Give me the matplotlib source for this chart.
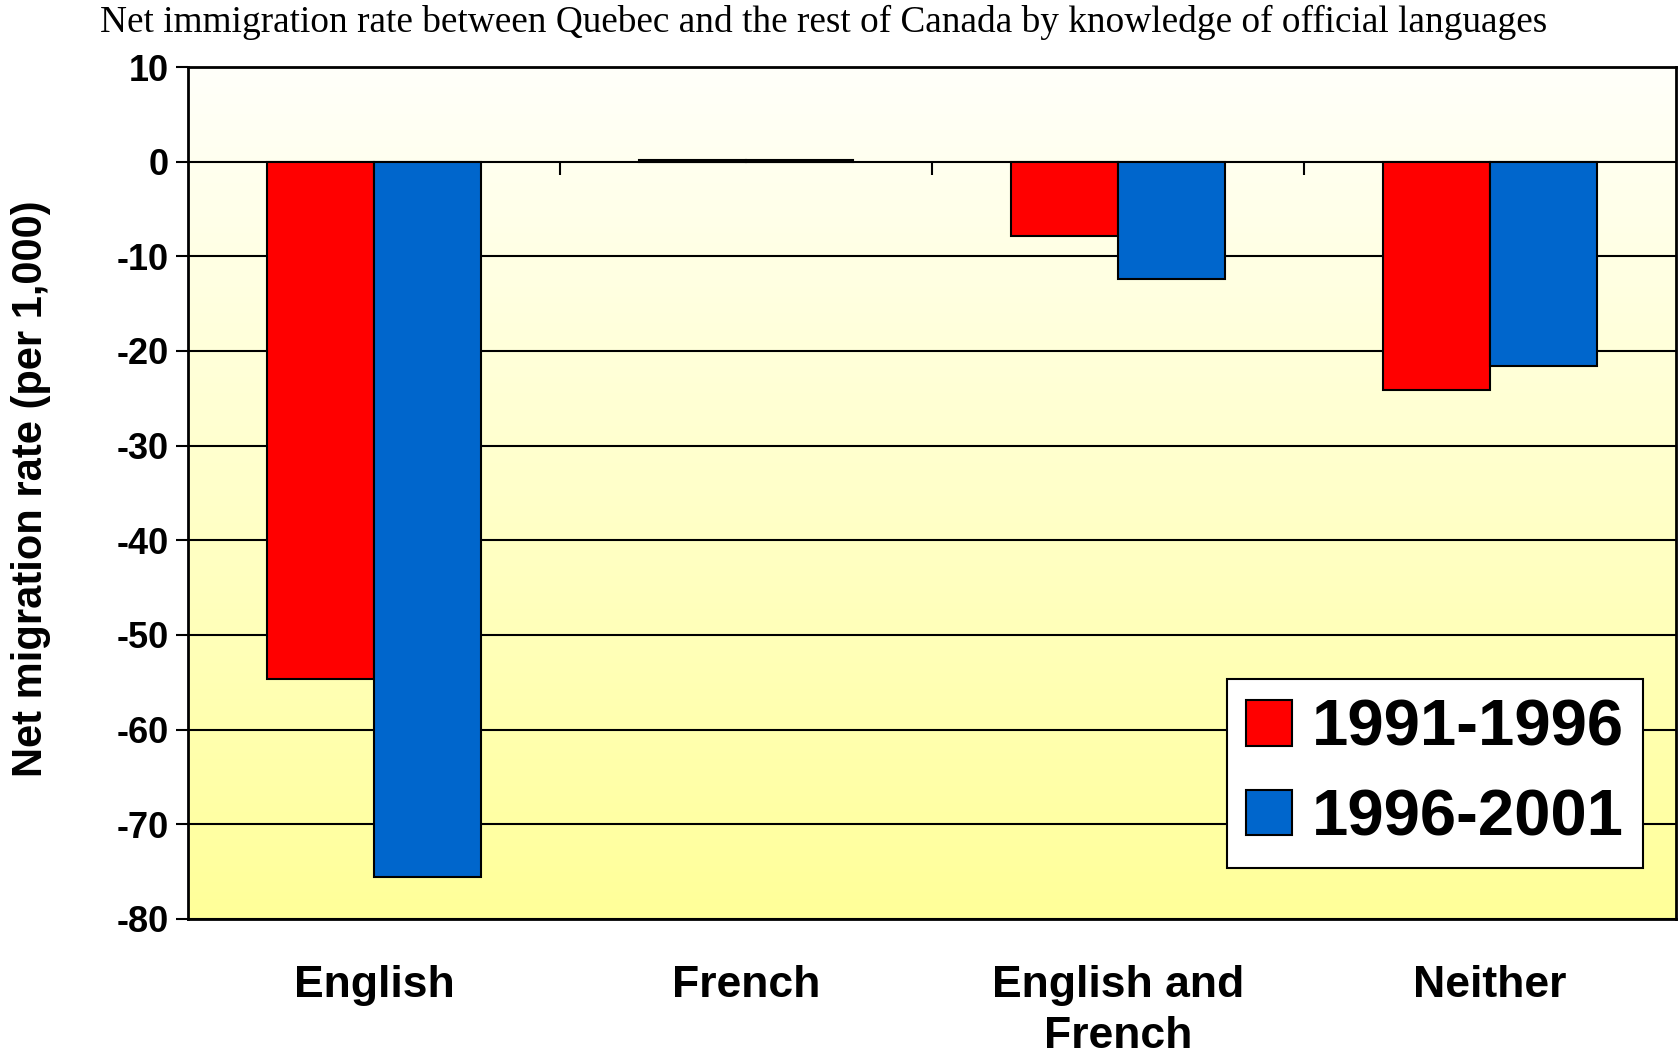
import numpy as np
import matplotlib
matplotlib.use("Agg")
import matplotlib.pyplot as plt
from matplotlib.colors import LinearSegmentedColormap

categories = ["English", "French", "English and\nFrench", "Neither"]
periods = ["1991-1996", "1996-2001"]
rate_1991 = [-54.7, 0.2, -7.8, -24.1]
rate_1996 = [-75.6, 0.2, -12.4, -21.6]
colors = ["#FF0000", "#0066CC"]
yticks = list(range(10, -90, -10))

plt.rcParams["font.family"] = ["Liberation Sans", "DejaVu Sans"]
plt.rcParams["font.weight"] = "bold"

fig = plt.figure(figsize=(16.81, 10.57), dpi=100)
ax = fig.add_axes([0.1118, 0.1306, 0.8852, 0.806])

# background gradient, white at top to pale yellow at bottom
grad = np.linspace(0, 1, 256).reshape(-1, 1)
cmap = LinearSegmentedColormap.from_list("bg", ["#FFFFFA", "#FFFF99"])
ax.imshow(grad, aspect="auto", cmap=cmap, extent=[0, 1, 0, 1],
          transform=ax.transAxes, zorder=0)

x = np.arange(len(categories))
w = 0.288
ax.bar(x - w / 2, rate_1991, w, color=colors[0], edgecolor="black",
       linewidth=1.5, label=periods[0], zorder=3)
ax.bar(x + w / 2, rate_1996, w, color=colors[1], edgecolor="black",
       linewidth=1.5, label=periods[1], zorder=3)

ax.set_xlim(-0.5, len(categories) - 0.5)
ax.set_ylim(-80, 10)
ax.set_yticks(yticks)
ax.set_yticklabels([str(t) for t in yticks], fontsize=26, fontweight="bold")
ax.yaxis.grid(True, color="black", linewidth=1.5, zorder=1)
ax.set_axisbelow(True)
ax.tick_params(axis="y", length=9, width=1.5, pad=5)

ax.set_xticks(x)
ax.set_xticklabels(categories, fontsize=32, fontweight="bold", linespacing=1.33)
ax.tick_params(axis="x", length=0, pad=33)
for lbl in ax.get_xticklabels():
    lbl.set_verticalalignment("top")

# category boundary ticks on the zero line
sec = ax.secondary_xaxis(80 / 90)
sec.set_xticks(x[:-1] + 0.5)
sec.xaxis.set_ticks_position("bottom")
sec.tick_params(axis="x", direction="out", length=9, width=1.5,
                labelbottom=False, labeltop=False)
sec.spines["top"].set_visible(False)
sec.spines["bottom"].set_visible(False)
sec.set_xticklabels([])

for s in ax.spines.values():
    s.set_linewidth(2)
    s.set_color("black")

ax.set_ylabel("Net migration rate (per 1,000)", fontsize=30, fontweight="bold")
ax.yaxis.label.set_verticalalignment("center")
ax.yaxis.set_label_coords(-0.1055, 0.505)

leg = ax.legend(loc="lower right", bbox_to_anchor=(0.978, 0.06),
                prop={"weight": "bold", "size": 47}, fancybox=False,
                framealpha=1, edgecolor="black", handlelength=0.7,
                handleheight=0.7, handletextpad=0.3, borderpad=0.3,
                labelspacing=0.45, borderaxespad=0)
leg.get_frame().set_linewidth(1.5)

fig.text(100 / 1681, 1 - 32 / 1057,
         "Net immigration rate between Quebec and the rest of Canada by knowledge of official languages",
         fontsize=26.8, fontweight="normal", family=["Liberation Serif", "DejaVu Serif"],
         va="baseline", ha="left")

fig.savefig("out.png", dpi=100)
